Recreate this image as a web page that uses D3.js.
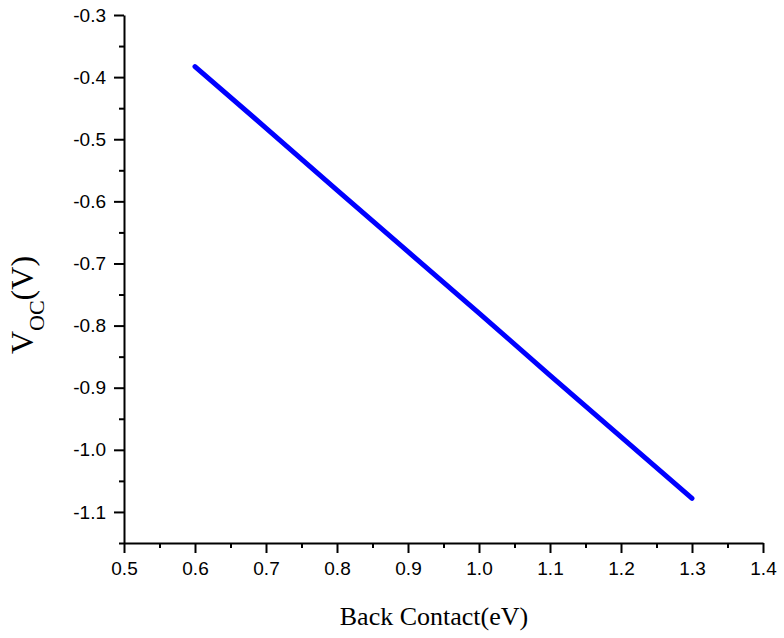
<!DOCTYPE html>
<html>
<head>
<meta charset="utf-8">
<script src="https://cdn.jsdelivr.net/npm/d3@7"></script>
<style>
  body { margin: 0; background: #fff; }
  .axis text { font-family: 'Liberation Sans', Arial, sans-serif; font-size: 19px; fill: #000; }
  .axis path, .axis line { stroke: #000; stroke-width: 2px; }
  .title { font-family: 'Liberation Serif', 'Times New Roman', serif; fill: #000; }
</style>
</head>
<body>
<div id="chart"></div>
<script>
// data
const backContact = [0.6, 0.7, 0.8, 0.9, 1.0, 1.1, 1.2, 1.3];
const voc = [-0.383, -0.482, -0.582, -0.681, -0.780, -0.880, -0.979, -1.078];

const xTicks = [0.5, 0.6, 0.7, 0.8, 0.9, 1.0, 1.1, 1.2, 1.3, 1.4];
const xMinor = [0.55, 0.65, 0.75, 0.85, 0.95, 1.05, 1.15, 1.25, 1.35];
const yTicks = [-1.1, -1.0, -0.9, -0.8, -0.7, -0.6, -0.5, -0.4, -0.3];
const yMinor = [-1.15, -1.05, -0.95, -0.85, -0.75, -0.65, -0.55, -0.45, -0.35];

// dimension stuff
const width = 784;
const height = 638;
const plotLeft = 124;
const plotRight = 763;
const plotTop = 15;
const plotBottom = 543;

const $svg = d3.select('#chart').append('svg')
  .attr('width', width)
  .attr('height', height);

// scales
const scaleX = d3.scaleLinear().domain([0.5, 1.4]).range([plotLeft, plotRight]);
const scaleY = d3.scaleLinear().domain([-1.15, -0.3]).range([plotBottom, plotTop]);

// plain hyphen for the minus sign, like the original
const fmt = d => d.toFixed(1);

// minor ticks first, majors on top
$svg.append('g').attr('class', 'axis')
  .attr('transform', `translate(0, ${plotBottom})`)
  .call(d3.axisBottom(scaleX).tickValues(xMinor).tickSize(5).tickFormat(''))
  .call(g => g.select('.domain').remove());

$svg.append('g').attr('class', 'axis')
  .attr('transform', `translate(${plotLeft}, 0)`)
  .call(d3.axisLeft(scaleY).tickValues(yMinor).tickSize(5).tickFormat(''))
  .call(g => g.select('.domain').remove());

$svg.append('g').attr('class', 'axis')
  .attr('transform', `translate(0, ${plotBottom})`)
  .call(d3.axisBottom(scaleX).tickValues(xTicks).tickSize(10).tickSizeOuter(0).tickPadding(9).tickFormat(fmt));

$svg.append('g').attr('class', 'axis')
  .attr('transform', `translate(${plotLeft}, 0)`)
  .call(d3.axisLeft(scaleY).tickValues(yTicks).tickSize(10).tickSizeOuter(0).tickPadding(8).tickFormat(fmt));

// the line
const line = d3.line()
  .x((d, i) => scaleX(backContact[i]))
  .y(d => scaleY(d));

$svg.append('path')
  .datum(voc)
  .attr('d', line)
  .attr('fill', 'none')
  .attr('stroke', '#0000ff')
  .attr('stroke-width', 5)
  .attr('stroke-linecap', 'round')
  .attr('stroke-linejoin', 'round');

// axis titles
$svg.append('text')
  .attr('class', 'title')
  .attr('x', 434)
  .attr('y', 625)
  .attr('text-anchor', 'middle')
  .style('font-size', '26px')
  .text('Back Contact(eV)');

const $yTitle = $svg.append('text')
  .attr('class', 'title')
  .attr('transform', 'translate(33, 305) rotate(-90)')
  .attr('text-anchor', 'middle')
  .style('font-size', '32px');
$yTitle.append('tspan').text('V');
$yTitle.append('tspan').attr('dy', 11).style('font-size', '22px').text('OC');
$yTitle.append('tspan').attr('dy', -11).text('(V)');
</script>
</body>
</html>
